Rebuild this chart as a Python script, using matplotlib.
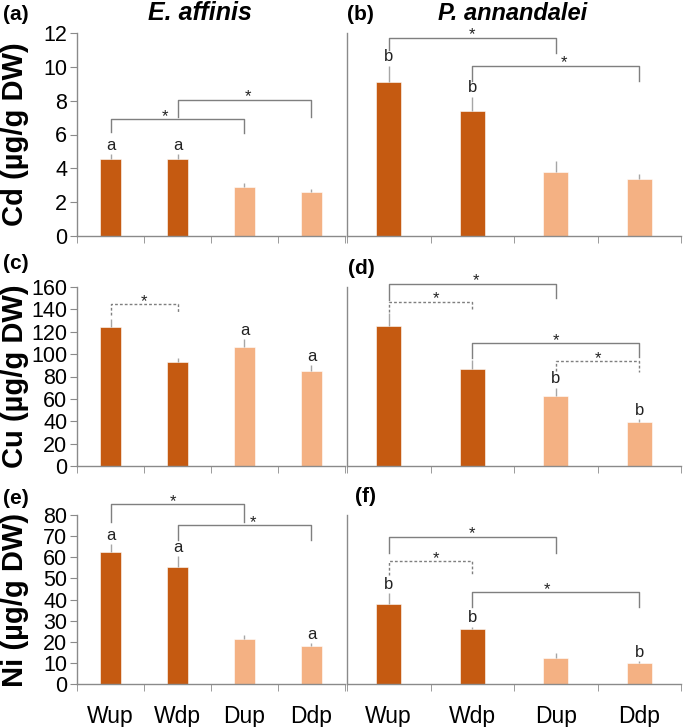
import numpy as np
import matplotlib.pyplot as plt
from matplotlib.ticker import FixedLocator

NARROW = ['Liberation Sans Narrow', 'Liberation Sans', 'DejaVu Sans']
REGULAR = ['Liberation Sans', 'DejaVu Sans']

categories = ['Wup', 'Wdp', 'Dup', 'Ddp']
species = ['E. affinis', 'P. annandalei']

# Cd (ug/g DW)
cd_ea = [4.55, 4.55, 2.92, 2.59]
cd_ea_err = [0.30, 0.30, 0.23, 0.19]
cd_pa = [9.09, 7.36, 3.77, 3.37]
cd_pa_err = [0.97, 0.88, 0.69, 0.30]

# Cu (ug/g DW)
cu_ea = [124.0, 93.0, 106.3, 84.9]
cu_ea_err = [7.4, 3.5, 7.2, 5.1]
cu_pa = [124.7, 86.8, 62.5, 39.7]
cu_pa_err = [12.3, 7.7, 7.5, 2.1]

# Ni (ug/g DW)
ni_ea = [62.6, 55.4, 21.1, 18.0]
ni_ea_err = [3.7, 5.2, 2.3, 1.3]
ni_pa = [37.9, 25.9, 12.3, 9.8]
ni_pa_err = [5.0, 1.2, 2.5, 1.1]

letters = {
    'a': ['a', 'a', '', ''], 'b': ['b', 'b', '', ''],
    'c': ['', '', 'a', 'a'], 'd': ['', '', 'b', 'b'],
    'e': ['a', 'a', '', 'a'], 'f': ['b', 'b', '', 'b'],
}

# (from, to, bar height, left leg end, right leg end, dashed, star x)
brackets = {
    'a': [(0, 2, 6.9, 6.15, 6.1, False, 0.82), (1, 3, 8.05, 7.06, 7.06, False, 2.05)],
    'b': [(0, 2, 11.73, 11.0, 10.8, False, 1.0), (1, 3, 10.06, 9.17, 9.17, False, 2.1)],
    'c': [(0, 1, 144.5, 135, 136.5, True, 0.5)],
    'd': [(0, 2, 163, 148.4, 150, False, 1.05), (0, 1, 147, 138, 138.7, True, 0.57),
          (1, 3, 110, 96.6, 97.5, False, 2.0), (2, 3, 93.6, 84.7, 83.8, True, 2.5)],
    'e': [(0, 2, 85.1, 76.6, 76.6, False, 0.93), (1, 3, 75.1, 68.2, 68.2, False, 2.13)],
    'f': [(0, 2, 69.7, 61.9, 61.9, False, 1.0), (0, 1, 58.1, 51.6, 51.6, True, 0.57),
          (1, 3, 43.4, 36.6, 36.6, False, 1.9)],
}

metals = ['Cd', 'Cu', 'Ni']
ymax = [12, 160, 80]
ystep = [2, 20, 10]
values = [[cd_ea, cd_pa], [cu_ea, cu_pa], [ni_ea, ni_pa]]
errors = [[cd_ea_err, cd_pa_err], [cu_ea_err, cu_pa_err], [ni_ea_err, ni_pa_err]]

dark = '#C55A11'
light = '#F4B183'
bar_colors = [dark, dark, light, light]
grey = '#8a8a8a'

W, H = 685, 727
fig = plt.figure(figsize=(W / 100, H / 100), dpi=100)

cols = [(77, 345), (347, 681)]
rows = [(33, 236), (287, 466), (515, 684)]
panel_ids = [['a', 'b'], ['c', 'd'], ['e', 'f']]
label_pos = [[(3, 14), (347, 15)], [(3, 263), (348, 269)], [(3, 498), (355, 497)]]

x = np.arange(len(categories))
for r in range(3):
    for c in range(2):
        x0, x1 = cols[c]
        y0, y1 = rows[r]
        ax = fig.add_axes([x0 / W, 1 - y1 / H, (x1 - x0) / W, (y1 - y0) / H])
        vals = values[r][c]
        errs = errors[r][c]
        ax.bar(x, vals, width=0.3, color=bar_colors, edgecolor='white', linewidth=0.4,
               yerr=[np.zeros(len(errs)), errs],
               error_kw=dict(ecolor='#a6a6a6', elinewidth=1, capsize=0))
        ax.set_xlim(-0.5, 3.5)
        ax.set_ylim(0, ymax[r])
        for s in ['top', 'right']:
            ax.spines[s].set_visible(False)
        for s in ['left', 'bottom']:
            ax.spines[s].set_color(grey)
            ax.spines[s].set_linewidth(1)
        ax.xaxis.set_major_locator(FixedLocator(x))
        ax.xaxis.set_minor_locator(FixedLocator(np.arange(-0.5, 4, 1)))
        ax.tick_params(axis='x', which='major', length=0, pad=15)
        ax.tick_params(axis='x', which='minor', length=5, color=grey, direction='out')
        if r == 2:
            ax.set_xticklabels(categories, fontsize=16.5, family=REGULAR)
        else:
            ax.set_xticklabels([])
        if c == 0:
            ax.set_yticks(np.arange(0, ymax[r] + 1, ystep[r]))
            ax.tick_params(axis='y', length=5, color=grey, pad=2)
            for t in ax.get_yticklabels():
                t.set_fontsize(15.5)
                t.set_family(NARROW)
        else:
            ax.set_yticks([])

        pid = panel_ids[r][c]
        for i, lab in enumerate(letters[pid]):
            if lab:
                ax.annotate(lab, (x[i], vals[i] + errs[i]), xytext=(0, 1),
                            textcoords='offset points', ha='center', va='bottom',
                            fontsize=12, family=NARROW, color='#222222')
        for (i, j, yb, yl, yr, dashed, sx) in brackets[pid]:
            ls = (0, (2, 1.5)) if dashed else '-'
            ax.plot([x[i], x[i], x[j], x[j]], [yl, yb, yb, yr], color='#7f7f7f',
                    lw=1, ls=ls, clip_on=False)
            ax.annotate('*', (sx, yb), xytext=(0, 2), textcoords='offset points',
                        ha='center', va='center', fontsize=12, family=REGULAR,
                        color='#222222', annotation_clip=False)

        lx, ly = label_pos[r][c]
        fig.text(lx / W, 1 - ly / H, '(%s)' % pid, fontsize=15, fontweight='bold',
                 family=NARROW, va='center', ha='left')

    fig.text(15 / W, 1 - (rows[r][0] + rows[r][1]) / 2 / H,
             '%s (µg/g DW)' % metals[r], rotation=90, fontsize=21, fontweight='bold',
             family=REGULAR, ha='center', va='center')

fig.text(200 / W, 1 - 13 / H, species[0], fontsize=18, fontweight='bold', style='italic',
         family=NARROW, ha='center', va='center')
fig.text(513 / W, 1 - 14 / H, species[1], fontsize=17, fontweight='bold', style='italic',
         family=NARROW, ha='center', va='center')

fig.savefig('out.png', dpi=100)
